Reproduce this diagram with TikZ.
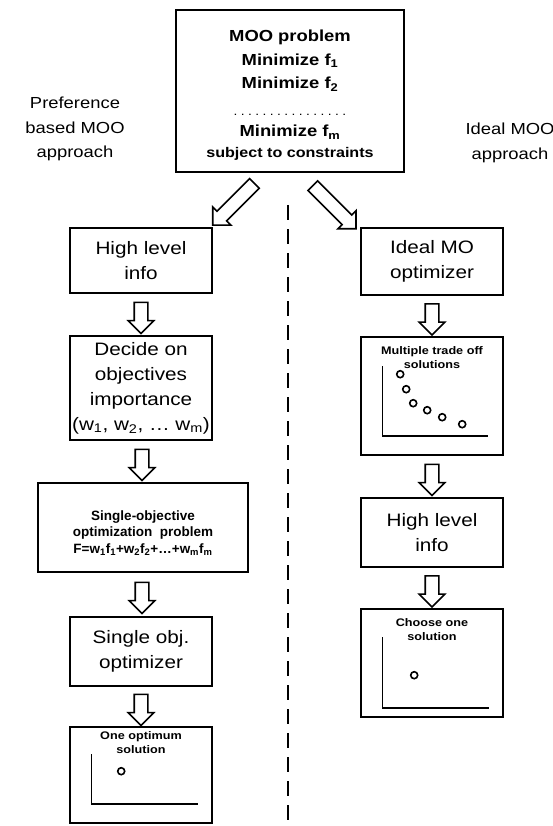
\documentclass[tikz,border=0pt]{standalone}
\usepackage{fontspec}
\setmainfont{Liberation Sans}
\newfontfamily\widefont{Liberation Sans}[FakeStretch=1.15]
\usepackage{tikz}
\usetikzlibrary{calc}
\usetikzlibrary{shapes}
\usetikzlibrary{arrows}

\newcommand\dotrow{{\mdseries\fontsize{12}{12}\selectfont\hbox to 116pt{\xleaders\hbox to 7.25pt{\hss.\hss}\hfill}}}

\begin{document}
\begin{tikzpicture}[x=1pt,y=-1pt,
    box/.style={draw,line width=1.6pt,rectangle,align=center,inner sep=0pt,minimum width=142pt},
    bigtxt/.style={font=\widefont\fontsize{18}{25}\selectfont},
    sidetxt/.style={align=center,inner sep=0pt,font=\widefont\fontsize{16}{24.5}\selectfont},
    blk/.style={draw,line width=1.6pt,single arrow,single arrow head extend=6pt,inner sep=6pt,minimum height=31pt},
    ptitle/.style={font=\widefont\fontsize{11}{14}\selectfont\bfseries,align=center,inner sep=0pt,anchor=north},
    axis/.style={line width=1.4pt},
    dot/.style={line width=1.6pt},
    divide/.style={line width=1.6pt,dash pattern=on 15pt off 9pt}]
    \useasboundingbox (0,0) rectangle (553,826);
    % problem box and the two approaches
    \draw[] (290,91) node[box,minimum width=228pt,minimum height=162pt,font=\widefont\fontsize{16}{23.5}\selectfont\bfseries] (Moo) {\rule{0pt}{20pt}MOO problem\\Minimize f\textsubscript{1}\\Minimize f\textsubscript{2}\\[3pt]\dotrow\\[-2pt]Minimize f\textsubscript{m}\\[-2.5pt]{\fontsize{14}{16}\selectfont subject to constraints}};
    \draw[] (75,129) node[sidetxt] (Pref) {Preference\\based MOO\\approach};
    \draw[] (510,143) node[sidetxt] (Ideal) {Ideal MOO\\approach};
    \coordinate (Dtop) at (288,205);
    \coordinate (Dbot) at (288,821);
    \draw[divide] (Dtop) -- (Dbot);
    % left column
    \draw[] (141,260.5) node[box,bigtxt,minimum height=65pt] (Hl) {High level\\info};
    \draw[] (141,388) node[box,bigtxt,minimum height=104pt] (Dec) {Decide on\\objectives\\importance\\(w\textsubscript{1}, w\textsubscript{2}, \dots\ w\textsubscript{m})};
    \draw[] (143,527.5) node[box,minimum width=210pt,minimum height=89pt,font=\fontsize{13.5}{16.5}\selectfont\bfseries] (Sop) {\rule{0pt}{21pt}Single-objective\\optimization\ \ problem\\F=w\textsubscript{1}f\textsubscript{1}+w\textsubscript{2}f\textsubscript{2}+\dots+w\textsubscript{m}f\textsubscript{m}};
    \draw[] (141,651.5) node[box,bigtxt,minimum height=69pt] (Soo) {Single obj.\\optimizer};
    \draw[] (141,775) node[box,minimum height=96pt] (One) {};
    \draw[] ($(One.north)+(0,5)$) node[ptitle] (OneT) {One optimum\\solution};
    \draw[axis] ($(One.north west)+(22,28)$) -- ($(One.south west)+(22,-20)$) -- ($(One.south east)+(-15,-20)$);
    \draw[dot] ($(One.north west)+(52,45)$) circle (3.5pt);
    % right column
    \draw[] (432,261.5) node[box,bigtxt,minimum height=67pt] (Imo) {Ideal MO\\optimizer};
    \draw[] (432,396) node[box,minimum height=118pt] (Mult) {};
    \draw[] ($(Mult.north)+(0,10)$) node[ptitle] (MultT) {Multiple trade off\\solutions};
    \draw[axis] ($(Mult.north west)+(22,30)$) -- ($(Mult.south west)+(22,-20)$) -- ($(Mult.south east)+(-16,-20)$);
    \draw[dot] ($(Mult.north west)+(40,38)$) circle (3.5pt) ($(Mult.north west)+(46,53)$) circle (3.5pt)
      ($(Mult.north west)+(53,67)$) circle (3.5pt) ($(Mult.north west)+(67,74)$) circle (3.5pt)
      ($(Mult.north west)+(82,81)$) circle (3.5pt) ($(Mult.north west)+(102,88)$) circle (3.5pt);
    \draw[] (432,532.5) node[box,bigtxt,minimum height=69pt] (Hr) {High level\\info};
    \draw[] (432,663) node[box,minimum height=108pt] (Cho) {};
    \draw[] ($(Cho.north)+(0,10)$) node[ptitle] (ChoT) {Choose one\\solution};
    \draw[axis] ($(Cho.north west)+(22,29)$) -- ($(Cho.south west)+(22,-10)$) -- ($(Cho.south east)+(-15,-10)$);
    \draw[dot] ($(Cho.north west)+(54,67)$) circle (3.5pt);
    % block arrows
    \draw[] ($(Moo.south)+(-54,29)$) node[blk,rotate=225,minimum height=59pt] (Sl) {};
    \draw[] ($(Moo.south)+(42,32)$) node[blk,rotate=-45,minimum height=61pt] (Sr) {};
    \draw[] ($(Hl.south)!0.5!(Dec.north)$) node[blk,rotate=-90] (A1) {};
    \draw[] ($(Dec.south)!0.5!(Sop.north)$) node[blk,rotate=-90] (A2) {};
    \draw[] ($(Sop.south)!0.5!(Soo.north)$) node[blk,rotate=-90] (A3) {};
    \draw[] ($(Soo.south)!0.5!(One.north)$) node[blk,rotate=-90] (A4) {};
    \draw[] ($(Imo.south)!0.5!(Mult.north)$) node[blk,rotate=-90] (B1) {};
    \draw[] ($(Mult.south)!0.5!(Hr.north)$) node[blk,rotate=-90] (B2) {};
    \draw[] ($(Hr.south)!0.5!(Cho.north)$) node[blk,rotate=-90] (B3) {};
\end{tikzpicture}
\end{document}
